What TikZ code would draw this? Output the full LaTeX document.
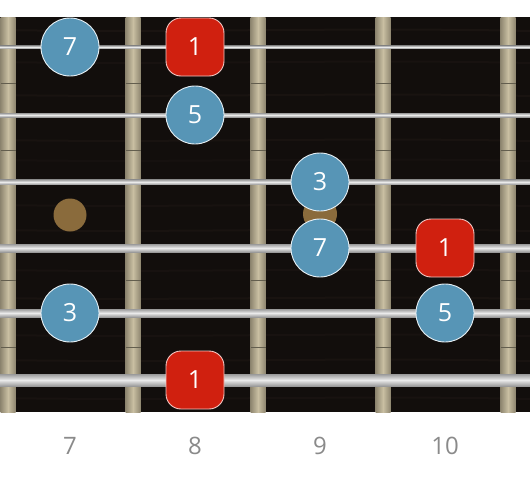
\documentclass[tikz,border=0pt]{standalone}
\usepackage{fontspec}
\setmainfont{Open Sans}
\definecolor{board}{HTML}{120E0C}
\definecolor{grain}{HTML}{2A211C}
\definecolor{inlay}{HTML}{8A6B3C}
\definecolor{fretdark}{HTML}{8E8670}
\definecolor{fretlight}{HTML}{C9BFA2}
\definecolor{strdark}{HTML}{9A9A9A}
\definecolor{strlight}{HTML}{EAEAEA}
\definecolor{noteblue}{HTML}{5795B6}
\definecolor{notered}{HTML}{D0200F}
\definecolor{labelgray}{HTML}{8A8A8A}
\tikzset{
  bluenote/.style={circle, fill=noteblue, draw=white!85!noteblue, line width=0.9pt, minimum size=58pt, inner sep=0pt, text=white, font=\fontsize{25}{25}\selectfont},
  rednote/.style={rectangle, rounded corners=15pt, fill=notered, draw=white!75!notered, line width=0.9pt, minimum size=58pt, inner sep=0pt, text=white, font=\fontsize{25}{25}\selectfont},
  fretlabel/.style={text=labelgray, inner sep=0pt, font=\fontsize{24}{24}\selectfont},
  inlaydot/.style={fill=inlay}
}
\begin{document}
\begin{tikzpicture}[x=1pt,y=-1pt]
\useasboundingbox (0,0) rectangle (530,477);
% fretboard
\fill[board] (0,17) rectangle (530,412);
\foreach \y/\o in {30/0.35,62/0.25,95/0.3,140/0.3,160/0.2,205/0.25,230/0.3,270/0.25,298/0.3,335/0.25,360/0.3,398/0.25}
  \draw[grain, line width=2pt, opacity=\o] (0,\y) .. controls (180,\y+3) and (350,\y-3) .. (530,\y+1);
% inlays
\fill[inlaydot] (70,215) circle (16.5);
\fill[inlaydot] (320,214) circle (17);
% frets
\foreach \x in {8,133,258,383,508}{
  \shade[left color=fretdark, right color=fretdark, middle color=fretlight] (\x-7.5,17) rectangle (\x+7.5,412);
  \foreach \y in {83,150,280,347}
    \draw[fretdark!70!black, line width=0.5pt] (\x-7.5,\y) -- (\x+7.5,\y);
}
% strings
\foreach \y/\t in {47/3,115/4,182/5,248/8,313/8,380/12}
  \shade[top color=strdark, bottom color=strdark, middle color=strlight] (0,\y-\t/2) rectangle (530,\y+\t/2);
% notes
\node[bluenote] (n1) at (70,47) {7};
\node[rednote]  (n2) at (195,47) {1};
\node[bluenote] (n3) at (195,115) {5};
\node[bluenote] (n4) at (320,182) {3};
\node[bluenote] (n5) at (320,248) {7};
\node[rednote]  (n6) at (445,248) {1};
\node[bluenote] (n7) at (70,313) {3};
\node[bluenote] (n8) at (445,313) {5};
\node[rednote]  (n9) at (195,380) {1};
% fret numbers
\node[fretlabel] (f7) at (70,446) {7};
\node[fretlabel] (f8) at (195,446) {8};
\node[fretlabel] (f9) at (320,446) {9};
\node[fretlabel] (f10) at (445,446) {10};
\end{tikzpicture}
\end{document}
